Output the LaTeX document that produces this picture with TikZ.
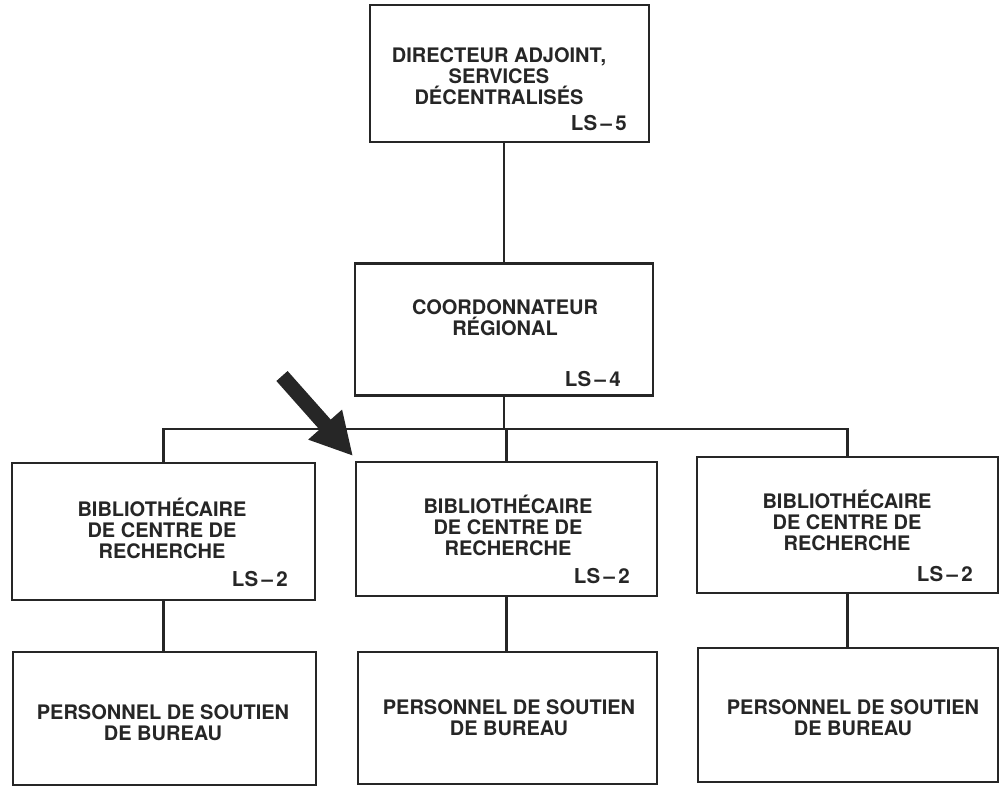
\documentclass[tikz,border=0pt]{standalone}
\usepackage{fontspec}
\setmainfont{TeX Gyre Heros}
\usetikzlibrary{arrows.meta}
\begin{document}
\begin{tikzpicture}[x=1pt,y=-1pt,
  box/.style={draw=black!85, line width=2.6pt, rectangle, inner sep=0pt},
  title/.style={align=center, inner sep=0pt, anchor=base, text=black!85,
    font=\fontsize{20}{21}\selectfont\bfseries},
  grade/.style={inner sep=0pt, anchor=base east, text=black!85,
    font=\fontsize{20.5}{21}\selectfont\bfseries},
  link/.style={draw=black!85, line width=2.4pt}]
\useasboundingbox[fill=white] (0,0) rectangle (1000,786);

% boxes
\node[box, minimum width=279pt, minimum height=137pt] (top)    at (509.5,73.5) {};
\node[box, minimum width=298pt, minimum height=132pt] (coord)  at (504,329.5) {};
\node[box, minimum width=303pt, minimum height=137pt] (lib1)   at (163.5,531.5) {};
\node[box, minimum width=301pt, minimum height=134pt] (lib2)   at (506.5,529) {};
\node[box, minimum width=301pt, minimum height=136pt] (lib3)   at (847.5,525) {};
\node[box, minimum width=303pt, minimum height=133pt] (staff1) at (164.5,718.5) {};
\node[box, minimum width=299pt, minimum height=132pt] (staff2) at (507.5,718) {};
\node[box, minimum width=300pt, minimum height=134pt] (staff3) at (848,715) {};

% titles (anchored on the baseline of their last line)
\node[title] (topT) at (499,105) {DIRECTEUR ADJOINT,\\SERVICES\\DÉCENTRALISÉS};
\node[grade] (topG) at (627,131) {LS\,–\,5};
\node[title] (coordT) at (505,335) {COORDONNATEUR\\RÉGIONAL};
\node[grade] (coordG) at (621,386) {LS\,–\,4};
\node[title] (lib1T) at (162,558) {BIBLIOTHÉCAIRE\\DE CENTRE DE\\RECHERCHE};
\node[grade] (lib1G) at (288,586) {LS\,–\,2};
\node[title] (lib2T) at (508,555) {BIBLIOTHÉCAIRE\\DE CENTRE DE\\RECHERCHE};
\node[grade] (lib2G) at (630,583) {LS\,–\,2};
\node[title] (lib3T) at (847,550) {BIBLIOTHÉCAIRE\\DE CENTRE DE\\RECHERCHE};
\node[grade] (lib3G) at (973,581) {LS\,–\,2};
\node[title] (staff1T) at (163,740) {PERSONNEL DE SOUTIEN\\DE BUREAU};
\node[title] (staff2T) at (509,735) {PERSONNEL DE SOUTIEN\\DE BUREAU};
\node[title] (staff3T) at (853,735) {PERSONNEL DE SOUTIEN\\DE BUREAU};

% connectors
\coordinate (bus) at (0,429);
\draw[link] (top.south -| coord.north) -- (coord.north);
\draw[link] (coord.south) -- (coord.south |- bus);
\draw[link] (lib1.north) |- (lib3.north |- bus) -- (lib3.north);
\draw[link] (lib2.north) -- (lib2.north |- bus);
\draw[link] (lib1.south) -- (lib1.south |- staff1.north);
\draw[link] (lib2.south) -- (lib2.south |- staff2.north);
\draw[link] (lib3.south) -- (lib3.south |- staff3.north);

% pointer arrow
\coordinate (ptrTail) at (282,376);
\coordinate (ptrTip) at (353,456);
\draw[black!85, line width=15pt, -{Triangle[width=42pt,length=42pt]}] (ptrTail) -- (ptrTip);
\end{tikzpicture}
\end{document}
